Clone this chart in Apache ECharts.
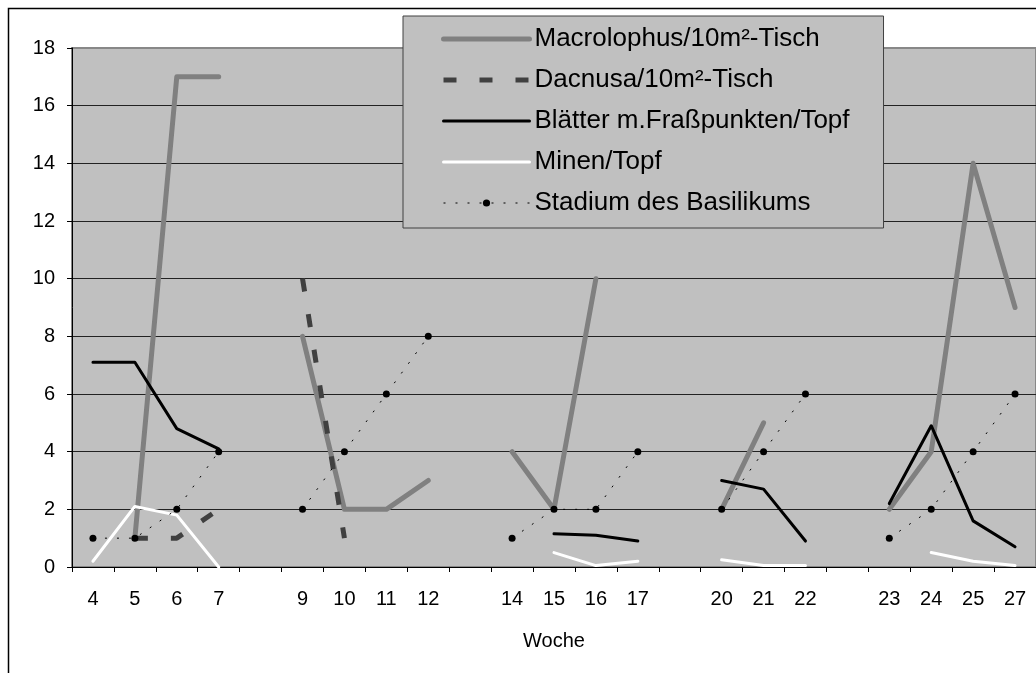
<!DOCTYPE html>
<html>
<head>
<meta charset="utf-8">
<script src="https://cdn.jsdelivr.net/npm/echarts@6/dist/echarts.min.js"></script>
<style>
html,body{margin:0;padding:0;background:#fff;}
#chart{width:1036px;height:673px;}
</style>
</head>
<body>
<div id="chart"></div>
<script>
// Categories (weeks); blank entries are the gaps between the groups
var weeks = ['4','5','6','7',' ','9','10','11','12','  ','14','15','16','17','   ','20','21','22','    ','23','24','25','27'];
var yTicks = [0,2,4,6,8,10,12,14,16,18];

var macrolophus = [null,1,17,17,null,8,2,2,3,null,4,2,10,null,null,2,5,null,null,2,4,14,9];
var dacnusa     = [null,1,1,2,null,10,1,null,null,null,null,null,null,null,null,null,null,null,null,null,null,null,null];
var blaetter    = [7.1,7.1,4.8,4.1,null,null,null,null,null,null,null,1.15,1.1,0.9,null,3.0,2.7,0.9,null,2.2,4.9,1.6,0.7];
var minen       = [0.2,2.1,1.8,0,null,null,null,null,null,null,null,0.5,0.05,0.2,null,0.25,0.05,0.05,null,null,0.5,0.2,0.05];
var stadium     = [1,1,2,4,null,2,4,6,8,null,1,2,2,4,null,2,4,6,null,1,2,4,6];

var seriesNames = ['Macrolophus/10m²-Tisch','Dacnusa/10m²-Tisch','Blätter m.Fraßpunkten/Topf','Minen/Topf','Stadium des Basilikums'];

var FONT = '"Liberation Sans", Arial, sans-serif';
var chart = echarts.init(document.getElementById('chart'), null, {renderer:'canvas'});

var hidden = {opacity: 0};
var option = {
  animation: false,
  backgroundColor: '#ffffff',
  textStyle: {fontFamily: FONT},
  graphic: [{
    type: 'rect', z: 0, silent: true,
    shape: {x: 8.5, y: 8.5, width: 1200, height: 1000},
    style: {fill: 'none', stroke: '#000', lineWidth: 1.5}
  }],
  grid: {
    left: 72, top: 48, width: 975, height: 519,
    show: true, backgroundColor: '#c0c0c0', borderColor: '#888888', borderWidth: 2
  },
  legend: {
    orient: 'vertical',
    left: 403, top: 16,
    padding: [10, 34, 12, 38],
    itemWidth: 86, itemHeight: 9, itemGap: 15,
    backgroundColor: '#c0c0c0',
    borderColor: '#404040', borderWidth: 1,
    textStyle: {fontFamily: FONT, fontSize: 26, color: '#000', lineHeight: 26},
    data: [
      {name: seriesNames[0], itemStyle: hidden, lineStyle: {width: 5, color: '#808080', cap: 'round'}},
      {name: seriesNames[1], itemStyle: hidden, lineStyle: {width: 5, color: '#404040', type: [13, 23]}},
      {name: seriesNames[2], itemStyle: hidden, lineStyle: {width: 3, color: '#000'}},
      {name: seriesNames[3], itemStyle: hidden, lineStyle: {width: 3, color: '#ffffff'}},
      {name: seriesNames[4], lineStyle: {width: 1, color: '#000', type: [2, 10]}}
    ]
  },
  xAxis: {
    type: 'category',
    data: weeks,
    boundaryGap: true,
    name: 'Woche',
    nameLocation: 'middle',
    nameGap: 64,
    nameTextStyle: {fontFamily: FONT, fontSize: 20, color: '#000'},
    axisLine: {lineStyle: {color: '#000', width: 1}},
    axisTick: {show: true, interval: 0, length: 5, lineStyle: {color: '#000'}},
    axisLabel: {interval: 0, margin: 22, fontFamily: FONT, fontSize: 20, color: '#000'},
    splitLine: {show: false}
  },
  yAxis: {
    type: 'value',
    min: yTicks[0], max: yTicks[yTicks.length-1], interval: 2,
    axisLine: {show: true, lineStyle: {color: '#000', width: 1}},
    axisTick: {show: true, length: 5, lineStyle: {color: '#000'}},
    axisLabel: {margin: 17, fontFamily: FONT, fontSize: 20, color: '#000'},
    splitLine: {show: true, showMinLine: false, showMaxLine: false, lineStyle: {color: '#222', width: 1}}
  },
  series: [
    {name: seriesNames[0], type: 'line', data: macrolophus, symbol: 'none', connectNulls: false,
     lineStyle: {color: '#808080', width: 5, cap: 'round', join: 'round'}, itemStyle: {color: '#808080'}},
    {name: seriesNames[1], type: 'line', data: dacnusa, symbol: 'none', connectNulls: false,
     lineStyle: {color: '#404040', width: 5, type: [13, 23], cap: 'butt'}, itemStyle: {color: '#404040'}},
    {name: seriesNames[2], type: 'line', data: blaetter, symbol: 'none', connectNulls: false,
     lineStyle: {color: '#000', width: 3, cap: 'round', join: 'round'}, itemStyle: {color: '#000'}},
    {name: seriesNames[3], type: 'line', data: minen, symbol: 'none', connectNulls: false,
     lineStyle: {color: '#ffffff', width: 3, cap: 'round', join: 'round'}, itemStyle: {color: '#ffffff'}},
    {name: seriesNames[4], type: 'line', data: stadium, symbol: 'circle', symbolSize: 7, showSymbol: true,
     connectNulls: false,
     lineStyle: {color: '#000', width: 1, type: [2, 10]}, itemStyle: {color: '#000'}}
  ]
};
chart.setOption(option);
</script>
</body>
</html>
